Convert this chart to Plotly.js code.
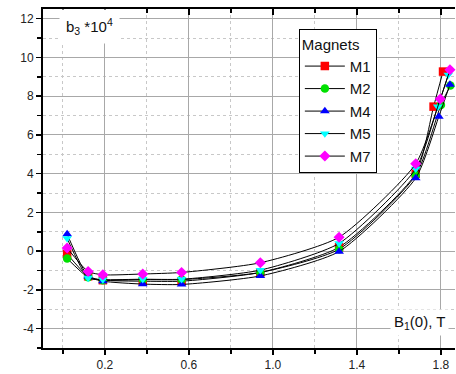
<!DOCTYPE html>
<html>
<head>
<meta charset="utf-8">
<script src="https://cdn.plot.ly/plotly-3.0.1.min.js"></script>
<style>html,body{margin:0;padding:0;background:#fff;}#chart{width:456px;height:374px;}</style>
</head>
<body>
<div id="chart"></div>
<script>
// ---- data ----
const seriesNames = ["M1", "M2", "M4", "M5", "M7"];
const xM1 = [0.02, 0.12, 0.19, 0.38, 0.565, 0.94, 1.315, 1.68, 1.765, 1.81];
const yM1 = [-0.15, -1.3, -1.5, -1.55, -1.55, -1.1, 0.2, 4.0, 7.46, 9.27];
const xM2 = [0.02, 0.12, 0.19, 0.38, 0.565, 0.94, 1.315, 1.68, 1.80, 1.845];
const yM2 = [-0.38, -1.35, -1.5, -1.47, -1.47, -1.1, 0.1, 3.92, 7.55, 8.55];
const xM4 = [0.02, 0.12, 0.19, 0.38, 0.565, 0.94, 1.315, 1.68, 1.79, 1.843];
const yM4 = [0.88, -1.3, -1.55, -1.7, -1.72, -1.28, -0.02, 3.77, 6.95, 8.6];
const xM5 = [0.02, 0.12, 0.19, 0.38, 0.565, 0.94, 1.315, 1.68, 1.785, 1.835];
const yM5 = [0.66, -1.38, -1.47, -1.45, -1.45, -0.98, 0.4, 4.25, 7.46, 9.1];
const xM7 = [0.02, 0.12, 0.19, 0.38, 0.565, 0.94, 1.315, 1.68, 1.797, 1.843];
const yM7 = [0.16, -1.05, -1.22, -1.18, -1.1, -0.6, 0.72, 4.51, 7.85, 9.36];
const xTickVals = [0.2, 0.6, 1.0, 1.4, 1.8];
const xTickText = ["0.2", "0.6", "1.0", "1.4", "1.8"];
const yTickVals = [-4, -2, 0, 2, 4, 6, 8, 10, 12];
const yTickText = ["-4", "-2", "0", "2", "4", "6", "8", "10", "12"];

const colors = ["#ff0000", "#00e000", "#0000ff", "#00ffff", "#ff00ff"];
const symbols = ["square", "circle", "triangle-up", "triangle-down", "diamond"];
const xs = [xM1, xM2, xM4, xM5, xM7];
const ys = [yM1, yM2, yM4, yM5, yM7];

const traces = seriesNames.map((n, i) => ({
  type: "scatter", mode: "lines+markers", name: n,
  x: xs[i], y: ys[i],
  line: {color: "#000", width: 1, shape: "spline", smoothing: 0.6},
  marker: {color: colors[i], symbol: symbols[i], size: 8.5, line: {width: 0}},
  cliponaxis: false
}));
// hidden trace to host the mirrored top axis
traces.push({type: "scatter", mode: "markers", x: xM1, y: yM1, xaxis: "x2", yaxis: "y",
  marker: {opacity: 0}, showlegend: false, hoverinfo: "skip"});

const FONT = "Liberation Sans, Arial, sans-serif";
const layout = {
  width: 456, height: 374,
  margin: {l: 43, r: 1, t: 9, b: 26},
  paper_bgcolor: "#fff", plot_bgcolor: "#fff",
  font: {family: FONT, color: "#222", size: 12},
  showlegend: true,
  legend: {
    x: 0.621, y: 0.94, xanchor: "left", yanchor: "top",
    bgcolor: "#fff", bordercolor: "#000", borderwidth: 1,
    font: {family: FONT, size: 15, color: "#111"},
    title: {text: "Magnets", font: {family: FONT, size: 15, color: "#111"}},
    tracegroupgap: 0, itemwidth: 40
  },
  xaxis: {
    range: [-0.095, 1.867], tickmode: "array", tickvals: xTickVals, ticktext: xTickText,
    ticks: "outside", ticklen: 5, tickwidth: 1.5, tickcolor: "#000",
    showline: true, linecolor: "#000", linewidth: 2,
    showgrid: true, gridcolor: "#a8a8a8", gridwidth: 1, zeroline: false,
    tickfont: {family: FONT, size: 12, color: "#222"},
    minor: {tickmode: "array", tickvals: [0, 0.4, 0.8, 1.2, 1.6], ticks: "outside", ticklen: 4, tickcolor: "#000",
      showgrid: true, gridcolor: "#c8c8c8", griddash: "dot", gridwidth: 1}
  },
  xaxis2: {
    overlaying: "x", matches: "x", side: "top", anchor: "y",
    tickmode: "array", tickvals: xTickVals, showticklabels: false,
    ticks: "inside", ticklen: 6, tickwidth: 1.5, tickcolor: "#000",
    showline: true, linecolor: "#000", linewidth: 2, showgrid: false, zeroline: false,
    minor: {tickmode: "array", tickvals: [0, 0.4, 0.8, 1.2, 1.6], ticks: "inside", ticklen: 4, tickcolor: "#000", showgrid: false}
  },
  yaxis: {
    range: [-5, 12.5], tickmode: "array", tickvals: yTickVals, ticktext: yTickText,
    ticks: "outside", ticklen: 5, tickwidth: 1.5, tickcolor: "#000",
    showline: true, linecolor: "#000", linewidth: 2,
    showgrid: true, gridcolor: "#a8a8a8", gridwidth: 1, zeroline: false,
    tickfont: {family: FONT, size: 12, color: "#222"},
    minor: {tickmode: "array", tickvals: [-5, -3, -1, 1, 3, 5, 7, 9, 11], ticks: "outside", ticklen: 4, tickcolor: "#000",
      showgrid: true, gridcolor: "#c8c8c8", griddash: "dot", gridwidth: 1}
  },
  annotations: [
    {xref: "paper", yref: "paper", x: 0.04, y: 1.0, xanchor: "left", yanchor: "top",
     text: "b<sub>3</sub> *10<sup>4</sup>", showarrow: false, bgcolor: "#fff",
     font: {family: FONT, size: 15, color: "#111"}, borderpad: 6},
    {xref: "paper", yref: "paper", x: 0.985, y: 0.035, xanchor: "right", yanchor: "bottom",
     text: "B<sub>1</sub>(0), T", showarrow: false, bgcolor: "#fff",
     font: {family: FONT, size: 15, color: "#111"}, borderpad: 3}
  ]
};

Plotly.newPlot("chart", traces, layout, {displayModeBar: false, staticPlot: true});
</script>
</body>
</html>
